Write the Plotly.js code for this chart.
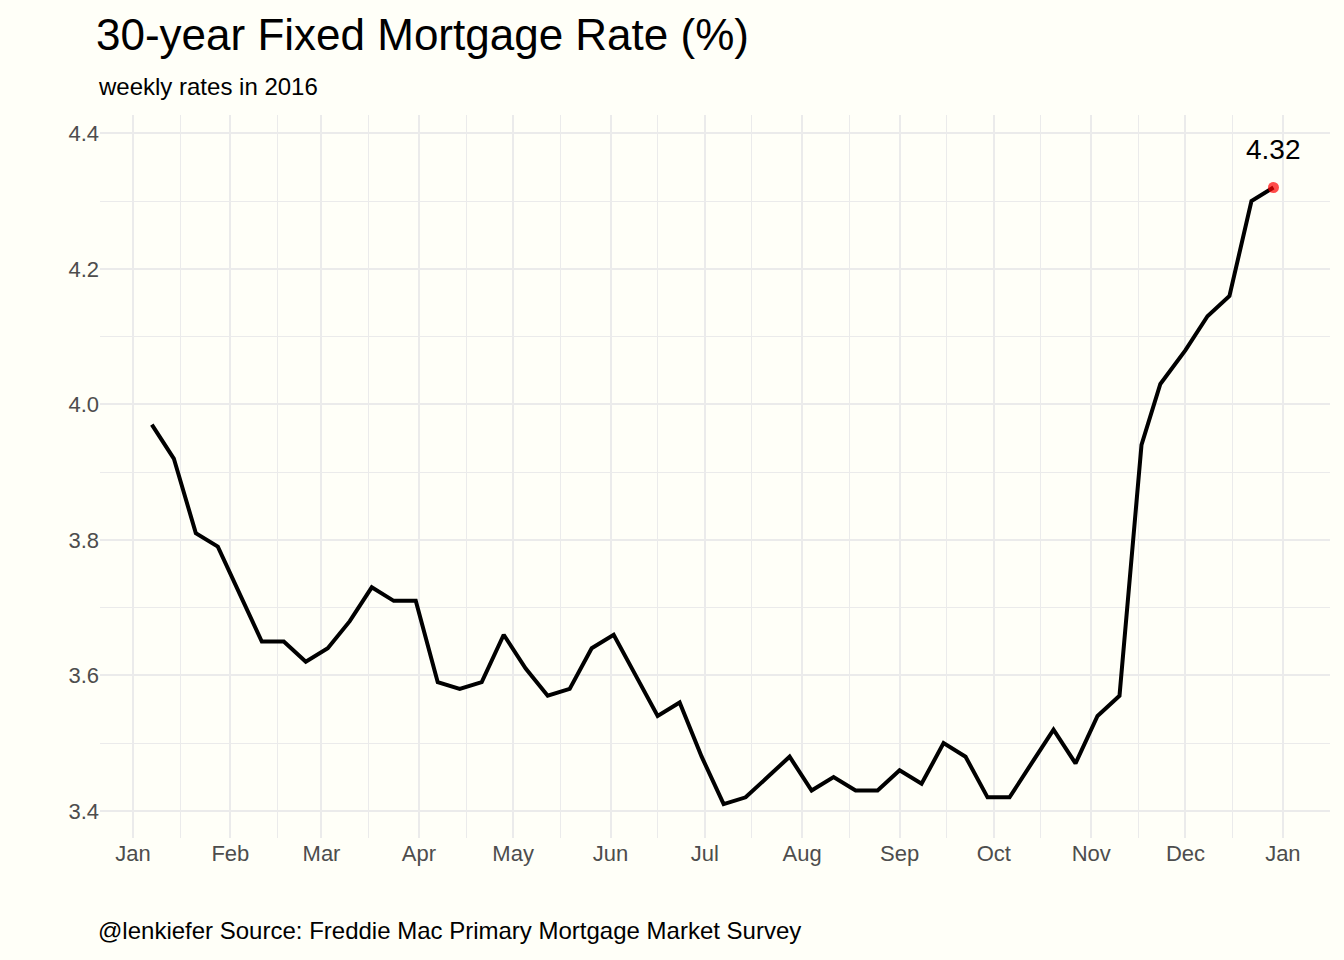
<!DOCTYPE html>
<html>
<head>
<meta charset="utf-8">
<script src="https://cdn.plot.ly/plotly-3.0.1.min.js"></script>
<style>body{margin:0;background:#fffff8;}</style>
</head>
<body>
<div id="graph" style="width:1344px;height:960px;"></div>
<script>
// weekly 30-year fixed rates, 2016
var weeks = ['2016-01-07','2016-01-14','2016-01-21','2016-01-28','2016-02-04','2016-02-11','2016-02-18','2016-02-25',
  '2016-03-03','2016-03-10','2016-03-17','2016-03-24','2016-03-31','2016-04-07','2016-04-14','2016-04-21','2016-04-28',
  '2016-05-05','2016-05-12','2016-05-19','2016-05-26','2016-06-02','2016-06-09','2016-06-16','2016-06-23','2016-06-30',
  '2016-07-07','2016-07-14','2016-07-21','2016-07-28','2016-08-04','2016-08-11','2016-08-18','2016-08-25',
  '2016-09-01','2016-09-08','2016-09-15','2016-09-22','2016-09-29','2016-10-06','2016-10-13','2016-10-20','2016-10-27',
  '2016-11-03','2016-11-10','2016-11-17','2016-11-23','2016-12-01','2016-12-08','2016-12-15','2016-12-22','2016-12-29'];
var rates = [3.97,3.92,3.81,3.79,3.72,3.65,3.65,3.62,3.64,3.68,3.73,3.71,3.71,3.59,3.58,3.59,3.66,
  3.61,3.57,3.58,3.64,3.66,3.60,3.54,3.56,3.48,3.41,3.42,3.45,3.48,3.43,3.45,3.43,3.43,
  3.46,3.44,3.50,3.48,3.42,3.42,3.47,3.52,3.47,3.54,3.57,3.94,4.03,4.08,4.13,4.16,4.30,4.32];
var lastWeek = weeks[weeks.length-1], lastRate = rates[rates.length-1];

var data = [
  {x: weeks, y: rates, mode: 'lines', type: 'scatter', line: {color: '#000', width: 4}, hoverinfo: 'x+y'},
  {x: [lastWeek], y: [lastRate], mode: 'markers', type: 'scatter', marker: {color: 'rgba(255,0,0,0.7)', size: 11}}
];

var grid = '#ebebeb';
var layout = {
  width: 1344, height: 960,
  paper_bgcolor: '#fffff8', plot_bgcolor: '#fffff8',
  showlegend: false,
  margin: {l: 100, r: 14, t: 115, b: 122},
  font: {family: 'Liberation Sans, Arial, sans-serif'},
  title: {text: '30-year Fixed Mortgage Rate (%)', x: 96/1344, xanchor: 'left', y: 1-35/960, yanchor: 'middle',
          font: {size: 44, color: '#000'}},
  xaxis: {
    type: 'date', range: ['2015-12-21 12:00', '2017-01-16'],
    tickvals: ['2016-01-01','2016-02-01','2016-03-01','2016-04-01','2016-05-01','2016-06-01','2016-07-01',
               '2016-08-01','2016-09-01','2016-10-01','2016-11-01','2016-12-01','2017-01-01'],
    ticktext: ['Jan','Feb','Mar','Apr','May','Jun','Jul','Aug','Sep','Oct','Nov','Dec','Jan'],
    showgrid: true, gridcolor: grid, gridwidth: 2, zeroline: false, showline: false,
    tickfont: {size: 22, color: '#4d4d4d'}, ticks: '', ticklen: 0,
    minor: {showgrid: true, gridcolor: grid, gridwidth: 1, tick0: '2016-01-16', dtick: 'M1'}
  },
  yaxis: {
    range: [3.36, 4.427], tickvals: [3.4,3.6,3.8,4.0,4.2,4.4], ticktext: ['3.4','3.6','3.8','4.0','4.2','4.4'],
    showgrid: true, gridcolor: grid, gridwidth: 2, zeroline: false, showline: false,
    tickfont: {size: 22, color: '#4d4d4d'}, ticks: '',
    minor: {showgrid: true, gridcolor: grid, gridwidth: 1, tickvals: [3.5,3.7,3.9,4.1,4.3]}
  },
  annotations: [
    {text: 'weekly rates in 2016', xref: 'paper', yref: 'paper', x: -4/1230, y: 1+28/723, xanchor: 'left', yanchor: 'middle',
     showarrow: false, font: {size: 24, color: '#000'}},
    {text: '@lenkiefer Source: Freddie Mac Primary Mortgage Market Survey', xref: 'paper', yref: 'paper',
     x: -4/1230, y: -(930-838)/723, xanchor: 'left', yanchor: 'middle', showarrow: false, font: {size: 24, color: '#000'}},
    {text: String(lastRate), x: lastWeek, y: lastRate, xref: 'x', yref: 'y', showarrow: false, yshift: 38,
     font: {size: 28, color: '#000'}}
  ]
};
Plotly.newPlot('graph', data, layout, {staticPlot: true});
</script>
</body>
</html>
